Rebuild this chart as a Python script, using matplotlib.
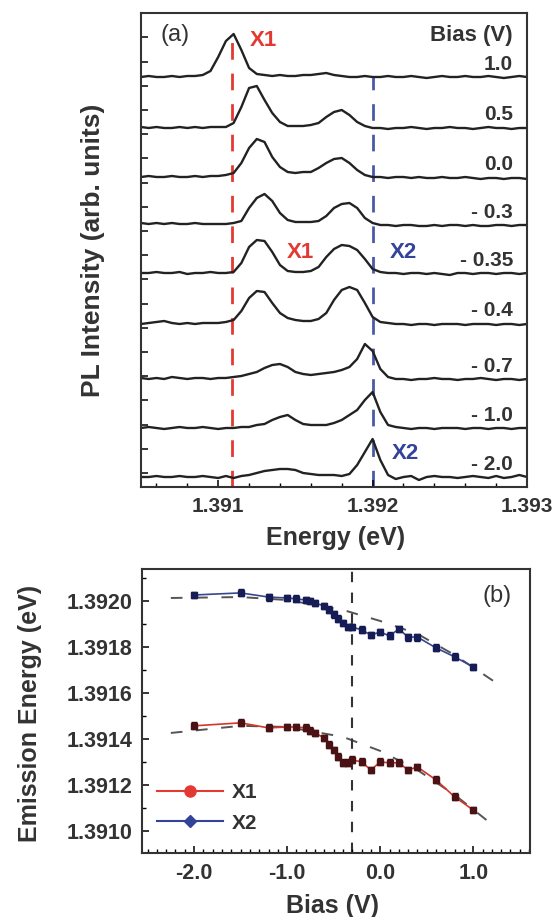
import matplotlib
matplotlib.use('Agg')
import matplotlib.pyplot as plt
import numpy as np
from matplotlib.lines import Line2D
from matplotlib.ticker import MultipleLocator, FormatStrFormatter

plt.rcParams['font.family'] = ['Liberation Sans', 'DejaVu Sans']
plt.rcParams['font.weight'] = 'bold'
plt.rcParams['axes.labelweight'] = 'bold'
plt.rcParams['axes.unicode_minus'] = False

# ---- (a) PL spectra: height above baseline, read every 0.05 meV ----
energy = np.round(np.arange(1.3905, 1.393001, 0.00005), 5)
bias_labels = ['1.0', '0.5', '0.0', '- 0.3', '- 0.35', '- 0.4', '- 0.7', '- 1.0', '- 2.0']

pl_p10 = [0, 1, 0, 0, 1, 0, 1, 1,
          2, 6, 20, 36, 43, 27, 9, 3, 2,
          1, 2, 1, 1, 2, 2, 3, 4, 2, 1, 0, 0, 1, 0, 0,
          1, 0, 0, 1, 0, -1, 0, 1, 0, 0, 1, 0, 0, 1, 0, -1, 0, 1, 0]
pl_p05 = [1, 0, 1, 0, 0, 1, 0, 1, 0, 1, 1,
          1, 5, 21, 40, 42, 28, 15, 6, 2, 2, 2, 3, 5, 11, 16, 18, 13, 6, 2, 0,
          0, -1, 0, 0, 1, 0, -1, 0, 0, 1, 0, 0, -1, 0, 1, 0, 0, -1, 0, 0]
pl_p00 = [0, 1, 0, 0, 1, 0, 0, 1, 0, 1,
          1, 2, 4, 14, 29, 38, 35, 20, 10, 5, 4, 5, 5, 9, 14, 18, 19, 14, 7, 2, 0,
          0, -1, 0, 0, -1, 0, -1, -1, 0, -1, -1, 0, -1, -2, -1, -1, -2, -1, -1, -2]
pl_m030 = [2, 1, 2, 1, 2, 1, 1, 2, 1, 1, 1, 1, 2,
           4, 17, 27, 31, 24, 12, 5, 3, 3, 3, 4, 9, 17, 21, 22, 17, 7, 2, 0,
           0, -1, 0, 0, -1, -1, 0, -1, 0, 0, -1, 0, -1, -1, 0, 0, -1, 0, 0]
pl_m035 = [0, 0, 1, 0, 0, 1, -1, 0, 0, 1, 0, 0, 1,
           10, 26, 33, 32, 21, 8, 2, 1, 1, 2, 6, 16, 24, 28, 27, 23, 14, 4, 1,
           0, 0, -1, 0, 0, -1, 0, -1, -2, 0, 0, -1, 0, 0, -1, 0, 0, -1, 0]
pl_m040 = [0, 1, 2, 3, 1, 0, 1, 0, 1, 1, 1,
           2, 4, 13, 26, 33, 32, 21, 11, 6, 4, 3, 3, 5, 11, 24, 34, 37, 34, 21, 7, 2, 1,
           0, 0, -1, 0, 0, -1, 0, 0, 0, -1, 0, 0, 0, -1, 0, 0, -1, 0]
pl_m070 = [1, 0, 1, 0, 2, 1, 0, 1, 1, 0, 1,
           1, 2, 3, 5, 7, 11, 14, 15, 12, 7, 5, 4, 5, 6, 7, 9, 12, 20, 35, 28, 10, 2, 0,
           0, -1, 0, 0, 1, 0, 0, -1, 0, 0, 1, 0, -1, 0, 0, -1, 0]
pl_m100 = [0, 1, 0, -1, 0, 1, 0, 0, 1, 0, -1, 0, 0, 1,
           1, 3, 4, 8, 11, 13, 8, 4, 3, 3, 3, 5, 8, 13, 18, 28, 36, 16, 3, 1,
           0, -1, 0, 0, -1, 0, 0, 0, -1, 0, 0, -1, 0, 0, -1, 0, 0]
pl_m200 = [0, 0, 1, 0, 0, 1, 0, 0, 1, 0,
           -1, 1, -1, 1, 2, 4, 6, 7, 8, 8, 7, 4, 3, 2, 2, 2, 1, 3, 12, 25, 38, 17, 2, -2,
           0, 1, -3, 0, 1, 0, 0, -1, 0, 1, 0, -1, 1, -1, 0, 2, 0]
spectra = [pl_p10, pl_p05, pl_p00, pl_m030, pl_m035, pl_m040, pl_m070, pl_m100, pl_m200]
offsets = [410, 359, 310, 262, 214, 163, 108, 59, 10]

x1_line = 1.39109
x2_line = 1.392

# ---- (b) emission energy vs bias ----
bias = [-2.0, -1.5, -1.2, -1.0, -0.9, -0.8, -0.75, -0.7, -0.6, -0.55, -0.5, -0.45,
        -0.4, -0.35, -0.3, -0.2, -0.1, 0.0, 0.1, 0.2, 0.3, 0.4, 0.6, 0.8, 1.0]
x1_energy = [1.391457, 1.391470, 1.391448, 1.391452, 1.391452, 1.391448, 1.391435,
             1.391426, 1.391404, 1.391374, 1.391352, 1.391322, 1.391296, 1.391296,
             1.391309, 1.391300, 1.391265, 1.391300, 1.391296, 1.391296, 1.391265,
             1.391278, 1.391222, 1.391148, 1.391091]
x2_energy = [1.392026, 1.392035, 1.392017, 1.392013, 1.392009, 1.392004, 1.392000,
             1.391991, 1.391978, 1.391961, 1.391943, 1.391922, 1.391904, 1.391887,
             1.391887, 1.391874, 1.391852, 1.391865, 1.391848, 1.391878, 1.391843,
             1.391843, 1.391796, 1.391757, 1.391713]
energy_err = 1.5e-5

fit_bias = [-2.25, -1.5, -1.0, -0.4, 0.0, 0.4, 0.8, 1.25]
x1_fit = [1.391426, 1.391457, 1.391452, 1.391409, 1.391348, 1.391265, 1.391157, 1.391013]
x2_fit = [1.392013, 1.392017, 1.392004, 1.391961, 1.391913, 1.391857, 1.391765, 1.391643]
bias_mark = -0.3

TXT = '#333333'
RED = '#e23a32'
BLUE = '#34439a'

fig = plt.figure(figsize=(5.55, 9.17), dpi=100)

# panel (a)
ax1 = fig.add_axes([141 / 555, 1 - 487 / 917, 386 / 555, 474 / 917])
ax1.plot([x1_line, x1_line], [0, 452], color=RED, lw=2, dashes=(6, 5), zorder=1)
ax1.plot([x2_line, x2_line], [0, 410], color='#4a5aa8', lw=2, dashes=(6, 5), zorder=1)
for spec, off, lab in zip(spectra, offsets, bias_labels):
    ax1.plot(energy, np.array(spec) + off, color='#222222', lw=1.7, zorder=2)
    ax1.text(1.39291, off + 13, lab, ha='right', va='center', fontsize=15, color=TXT)

ax1.text(1.39291, 452, 'Bias (V)', ha='right', va='center', fontsize=16, color=TXT)
ax1.text(1.39072, 452, '(a)', ha='center', va='center', fontsize=17,
         fontweight='normal', color=TXT)
ax1.text(1.39129, 447, 'X1', ha='center', va='center', fontsize=16, color=RED)
ax1.text(1.39153, 235, 'X1', ha='center', va='center', fontsize=16, color=RED)
ax1.text(1.39220, 235, 'X2', ha='center', va='center', fontsize=16, color=BLUE)
ax1.text(1.39221, 34, 'X2', ha='center', va='center', fontsize=16, color=BLUE)

ax1.set_xlim(1.3905, 1.393)
ax1.set_ylim(0, 474)
ax1.set_xticks([1.391, 1.392, 1.393])
ax1.set_xticklabels(['1.391', '1.392', '1.393'])
ax1.xaxis.set_minor_locator(MultipleLocator(0.0002))
ax1.set_yticks(np.arange(14, 474, 24.2))
ax1.set_yticklabels([])
ax1.tick_params(direction='in', top=False, right=False, length=5, width=1.1,
                labelsize=15, labelcolor=TXT, pad=7)
ax1.tick_params(which='minor', direction='in', top=False, right=False, length=3, width=1)
ax1.set_xlabel('Energy (eV)', fontsize=18, color=TXT)
ax1.set_ylabel('PL Intensity (arb. units)', fontsize=19, color=TXT)
ax1.xaxis.set_label_coords(0.503, -0.082)
ax1.yaxis.set_label_coords(-0.093, 0.5)
for s in ax1.spines.values():
    s.set_linewidth(1.5)
    s.set_color('#333333')

# panel (b)
ax2 = fig.add_axes([142 / 555, 1 - 853 / 917, 388 / 555, 284 / 917])
ax2.plot(fit_bias, x1_fit, color='#555555', lw=1.4, dashes=(6, 7), zorder=1)
ax2.plot(fit_bias, x2_fit, color='#555555', lw=1.4, dashes=(6, 7), zorder=1)
ax2.axvline(bias_mark, color='#333333', lw=1.5, dashes=(5, 5), zorder=1)
ax2.errorbar(bias, x1_energy, yerr=energy_err, fmt='s-', color='#d9342b', lw=1.2,
             ms=5, mfc='#4a1214', mec='#4a1214', ecolor='#3a1010', elinewidth=1,
             capsize=2, zorder=3)
ax2.errorbar(bias, x2_energy, yerr=energy_err, fmt='s-', color='#3a4590', lw=1.2,
             ms=5, mfc='#161c55', mec='#161c55', ecolor='#101545', elinewidth=1,
             capsize=2, zorder=3)

handles = [Line2D([], [], color=RED, lw=1.5, marker='o', ms=8),
           Line2D([], [], color=BLUE, lw=1.5, marker='D', ms=6)]
ax2.legend(handles, ['X1', 'X2'], loc='lower left', bbox_to_anchor=(0.0, 0.02),
           frameon=False, fontsize=15, handlelength=3.2, handletextpad=0.4,
           labelspacing=0.55, borderaxespad=0.3)
for t in ax2.get_legend().get_texts():
    t.set_color(TXT)

ax2.text(0.915, 0.905, '(b)', transform=ax2.transAxes, ha='center', va='center',
         fontsize=17, fontweight='normal', color=TXT)

ax2.set_xlim(-2.56, 1.61)
ax2.set_ylim(1.390904, 1.392139)
ax2.set_xticks([-2.0, -1.0, 0.0, 1.0])
ax2.xaxis.set_major_formatter(FormatStrFormatter('%.1f'))
ax2.xaxis.set_minor_locator(MultipleLocator(0.1))
ax2.set_yticks([1.3910, 1.3912, 1.3914, 1.3916, 1.3918, 1.3920])
ax2.yaxis.set_major_formatter(FormatStrFormatter('%.4f'))
ax2.yaxis.set_minor_locator(MultipleLocator(0.0001))
ax2.tick_params(direction='in', top=False, right=False, length=5, width=1.1,
                labelsize=15.5, labelcolor=TXT, pad=7)
ax2.tick_params(which='minor', direction='in', top=False, right=False, length=3, width=1)
ax2.set_xlabel('Bias (V)', fontsize=18, color=TXT)
ax2.set_ylabel('Emission Energy (eV)', fontsize=18, color=TXT)
ax2.xaxis.set_label_coords(0.492, -0.146)
ax2.yaxis.set_label_coords(-0.258, 0.493)
for s in ax2.spines.values():
    s.set_linewidth(1.5)
    s.set_color('#333333')

fig.savefig('out.png', dpi=100)
